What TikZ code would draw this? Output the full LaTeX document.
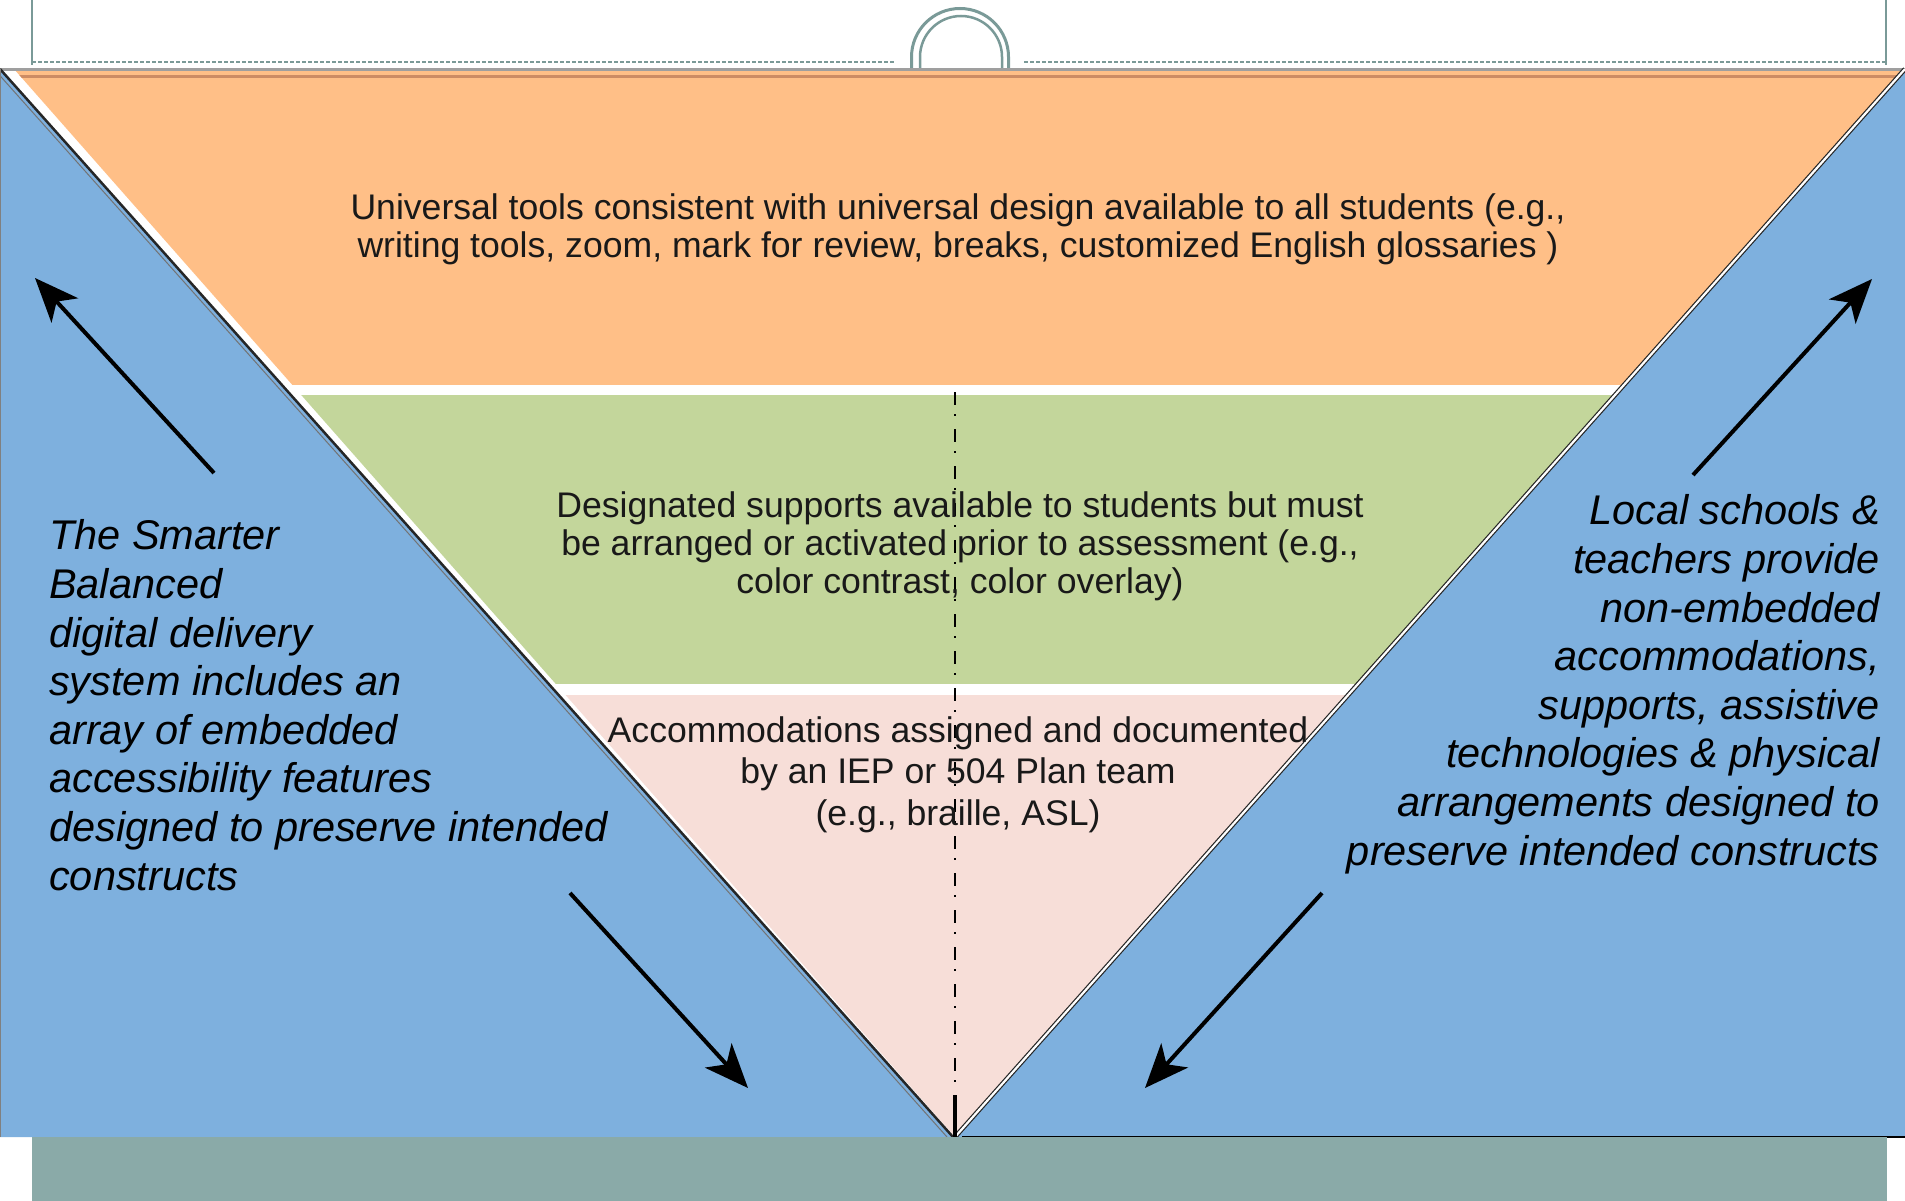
\documentclass[tikz,border=0pt]{standalone}
\usepackage{fontspec}
\setmainfont{Liberation Sans}
\usetikzlibrary{arrows.meta}
\definecolor{blueC}{RGB}{126,176,222}
\definecolor{orangeC}{RGB}{255,191,135}
\definecolor{orangeDark}{RGB}{205,140,100}
\definecolor{greenC}{RGB}{195,214,155}
\definecolor{pinkC}{RGB}{247,222,216}
\definecolor{barC}{RGB}{138,170,168}
\definecolor{hdrC}{RGB}{122,154,152}
\definecolor{txtC}{RGB}{25,25,25}
\tikzset{
  hdrline/.style={draw=hdrC},
  midtext/.style={font=\fontsize{35.6}{38}\selectfont, align=center, inner sep=0pt, text=txtC},
  sidetext/.style={font=\itshape\fontsize{41.5}{48.6}\selectfont, inner sep=0pt, text=black},
  bigarrow/.style={line width=4pt, -{Stealth[length=44pt,width=36pt,inset=12pt]}},
}
\begin{document}
\begin{tikzpicture}[x=1pt,y=-1pt]
\useasboundingbox (0,0) rectangle (1905,1201);
\fill[white] (0,0) rectangle (1905,1201);

% header
\draw[hdrline, line width=1.5pt] (32,0) -- (32,65);
\draw[hdrline, line width=1.5pt] (1886,0) -- (1886,65);
\draw[hdrline, line width=2pt, dash pattern=on 4pt off 2pt] (32,62) -- (894,62);
\draw[hdrline, line width=2pt, dash pattern=on 4pt off 2pt] (1024,62) -- (1886,62);
\draw[hdrline, line width=3pt] (911.5,68) -- (911.5,57) arc[start angle=180,end angle=360,radius=48.5] -- (1008.5,68);
\draw[hdrline, line width=2.5pt] (920,68) -- (920,57) arc[start angle=180,end angle=360,radius=41] -- (1002,68);

% coloured inverted triangle
\begin{scope}
\clip (14,69) -- (1905,69) -- (955,1137) -- cycle;
\fill[orangeC] (0,69) rectangle (1905,385);
\fill[greenC] (0,395) rectangle (1905,684);
\fill[pinkC] (0,695) rectangle (1905,1137);
\fill[orangeDark] (0,75.5) rectangle (1905,78.5);
\end{scope}
\draw[gray!75, line width=2.5pt] (0,69.5) -- (1905,69.5);

% blue side triangles
\fill[blueC] (0,69) -- (953,1137) -- (0,1137) -- cycle;
\fill[blueC] (1905,69) -- (955,1137) -- (1905,1137) -- cycle;
\draw[black!85, line width=2.5pt] (0,69) -- (953,1137);
\draw[black!55, line width=1pt] (-6,69) -- (947,1137);
\draw[black!85, double=white, line width=1.2pt, double distance=2.2pt] (1905,69) -- (955,1137);
\draw[black, line width=2pt] (962,1136.5) -- (1905,1136.5);
\draw[gray, line width=1pt] (0.5,69) -- (0.5,1137);

% centre axis
\draw[black, line width=2pt, dash pattern=on 13pt off 9pt on 2pt off 13pt] (955,392) -- (955,1095);
\draw[black, line width=4pt] (955,1095) -- (955,1137);

% bottom bar
\fill[barC] (32,1137) rectangle (1887,1201);

% texts (base anchor = baseline of last line)
\node[midtext, anchor=base] (universal) at (958,257)
  {Universal tools consistent with universal design available to all students (e.g.,\\
   writing tools, zoom, mark for review, breaks, customized English glossaries )};
\node[midtext, anchor=base] (designated) at (960,593)
  {Designated supports available to students but must\\
   be arranged or activated prior to assessment (e.g.,\\
   color contrast, color overlay)};
\node[midtext, font=\fontsize{35.6}{41.5}\selectfont, anchor=base] (accom) at (958,825)
  {Accommodations assigned and documented\\
   by an IEP or 504 Plan team\\
   (e.g., braille, ASL)};
\node[sidetext, align=left, anchor=base west] (smarter) at (49,890)
  {The Smarter\\ Balanced\\ digital delivery\\ system includes an\\ array of embedded\\
   accessibility features\\ designed to preserve intended\\ constructs};
\node[sidetext, align=right, anchor=base east] (local) at (1880,865)
  {Local schools \&\\ teachers provide\\ non-embedded\\ accommodations,\\ supports, assistive\\
   technologies \& physical\\ arrangements designed to\\ preserve intended constructs};

% arrows
\coordinate (luTail) at (214,473);
\coordinate (luTip) at (35,278);
\coordinate (ldTail) at (570,893);
\coordinate (ldTip) at (748,1088);
\coordinate (rdTail) at (1322,893);
\coordinate (rdTip) at (1145,1088);
\coordinate (ruTail) at (1693,475);
\coordinate (ruTip) at (1872,279);
\draw[bigarrow] (luTail) -- (luTip);
\draw[bigarrow] (ldTail) -- (ldTip);
\draw[bigarrow] (rdTail) -- (rdTip);
\draw[bigarrow] (ruTail) -- (ruTip);
\end{tikzpicture}
\end{document}
